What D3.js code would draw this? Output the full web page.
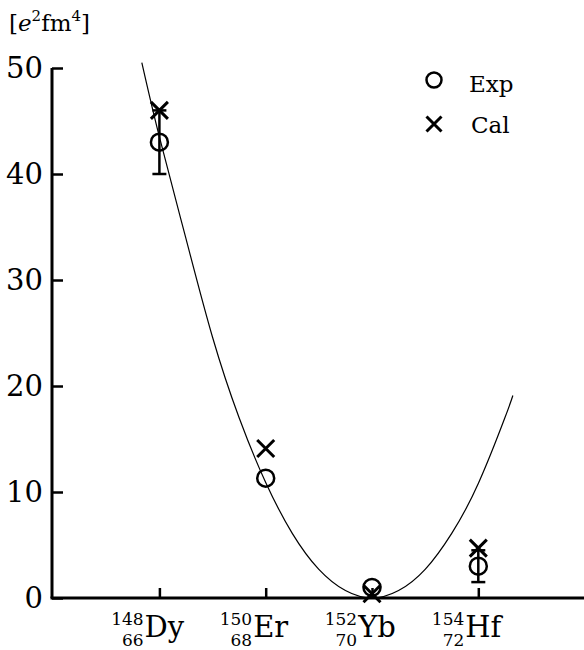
<!DOCTYPE html>
<html><head><meta charset="utf-8">
<script src="https://cdn.jsdelivr.net/npm/d3@7"></script>
<style>body{margin:0;background:#fff}svg{display:block}
text{font-family:"DejaVu Serif","Liberation Serif",serif}</style>
</head><body>
<script>
// Data
const nuclei = ["Dy", "Er", "Yb", "Hf"];
const massNumbers = [148, 150, 152, 154];
const protonNumbers = [66, 68, 70, 72];
const expValues = [43, 11.3, 1.0, 3.0];
const expErrors = [3, 0, 0, 1.5];
const calValues = [46, 14.1, 0.4, 4.7];
const curveA = [147.67, 148.0, 148.5, 149.0, 149.5, 150.0, 150.5, 151.0, 151.5, 152.0, 152.5, 153.0, 153.5, 154.0, 154.5, 154.65];
const curveV = [50.5, 43.5, 33.9, 24.6, 17.0, 10.9, 6.1, 2.7, 0.7, 0, 0.7, 2.7, 6.1, 10.8, 17.0, 19.1];
const yTicks = [0, 10, 20, 30, 40, 50];

const W = 584, H = 650;
const svg = d3.select("body").append("svg").attr("width", W).attr("height", H);
const x = d3.scaleLinear().domain([148, 154]).range([159.4, 478.3]);
const y = d3.scaleLinear().domain([0, 50]).range([598, 68]);

// curve
const line = d3.line().x(d => x(d[0])).y(d => y(d[1])).curve(d3.curveNatural);
svg.append("path").datum(curveA.map((a, i) => [a, curveV[i]]))
  .attr("d", line).attr("fill", "none").attr("stroke", "#000").attr("stroke-width", 1.2);

// axes
const yAxis = d3.axisRight(y).tickValues(yTicks).tickSize(11).tickFormat("");
const gy = svg.append("g").attr("transform", "translate(52,0)").call(yAxis);
gy.select(".domain").attr("d", `M0,${y(50)}V${y(0)}`).attr("stroke-width", 3);
gy.selectAll(".tick line").attr("stroke-width", 2.5);
svg.append("g").selectAll("text").data(yTicks).join("text")
  .attr("x", 43).attr("y", d => y(d)).attr("dy", "0.36em").attr("text-anchor", "end")
  .attr("font-size", 29).text(d => d);

const xAxis = d3.axisTop(x).tickValues(massNumbers).tickSize(10).tickFormat("");
const gx = svg.append("g").attr("transform", `translate(0,${y(0)})`).call(xAxis);
gx.select(".domain").attr("d", `M50.5,0H584`).attr("stroke-width", 3);
gx.selectAll(".tick line").attr("stroke-width", 2.5);

// x labels
nuclei.forEach((n, i) => {
  const cx = x(massNumbers[i]) + 5;
  const g = svg.append("g");
  const el = g.append("text").attr("x", cx).attr("y", 637).attr("text-anchor", "middle")
    .attr("font-size", 29).text(n);
  const w = el.node().getComputedTextLength();
  const left = cx - w / 2 - 1;
  g.append("text").attr("x", left).attr("y", 625).attr("text-anchor", "end")
    .attr("font-size", 17).text(massNumbers[i]);
  g.append("text").attr("x", left).attr("y", 646).attr("text-anchor", "end")
    .attr("font-size", 17).text(protonNumbers[i]);
});

// y unit label
const ul = svg.append("text").attr("x", 9).attr("y", 31).attr("font-size", 23);
ul.append("tspan").text("[");
ul.append("tspan").attr("font-style", "italic").text("e");
ul.append("tspan").attr("font-size", 15).attr("dy", -10).text("2");
ul.append("tspan").attr("dy", 10).text("fm");
ul.append("tspan").attr("font-size", 15).attr("dy", -10).text("4");
ul.append("tspan").attr("dy", 10).text("]");

// error bars
const eb = svg.append("g").attr("stroke", "#000").attr("stroke-width", 2.5);
massNumbers.forEach((m, i) => {
  if (!expErrors[i]) return;
  const px = x(m), y1 = y(expValues[i] - expErrors[i]), y2 = y(expValues[i] + expErrors[i]);
  eb.append("line").attr("x1", px).attr("x2", px).attr("y1", y1).attr("y2", y2);
  eb.append("line").attr("x1", px - 7).attr("x2", px + 7).attr("y1", y1).attr("y2", y1);
  eb.append("line").attr("x1", px - 7).attr("x2", px + 7).attr("y1", y2).attr("y2", y2);
});

// markers
function cross(g, cx, cy, s) {
  g.append("path").attr("d", `M${cx - s},${cy - s}L${cx + s},${cy + s}M${cx - s},${cy + s}L${cx + s},${cy - s}`)
    .attr("stroke", "#000").attr("stroke-width", 3).attr("fill", "none");
}
const mk = svg.append("g");
massNumbers.forEach((m, i) => {
  mk.append("circle").attr("cx", x(m)).attr("cy", y(expValues[i])).attr("r", 8.5)
    .attr("fill", "none").attr("stroke", "#000").attr("stroke-width", 2.5);
  cross(mk, x(m), y(calValues[i]), 8.5);
});

// legend
const lg = svg.append("g");
lg.append("circle").attr("cx", 434).attr("cy", 80).attr("r", 7.5)
  .attr("fill", "none").attr("stroke", "#000").attr("stroke-width", 2.5);
cross(lg, 434, 124, 7.5);
lg.append("text").attr("x", 469).attr("y", 92).attr("font-size", 23).text("Exp");
lg.append("text").attr("x", 471).attr("y", 133).attr("font-size", 23).text("Cal");
</script>
</body></html>
